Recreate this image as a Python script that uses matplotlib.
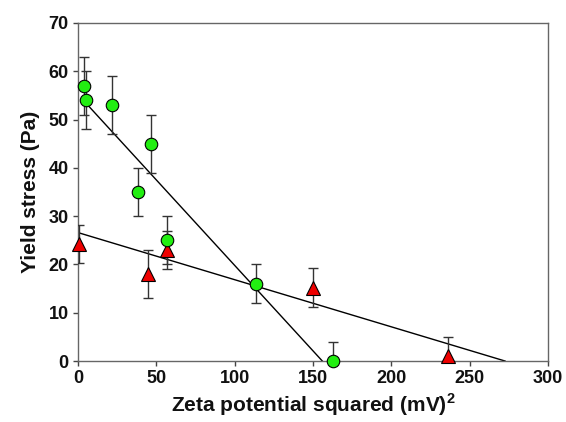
import numpy as np
from matplotlib import pyplot as plt

# green circles
green_x = [4, 5, 21.5, 46.5, 38, 57, 113.5, 163]
green_y = [57, 54, 53, 45, 35, 25, 16, 0]
green_err = [6, 6, 6, 6, 5, 5, 4, 4]

# red triangles
red_x = [0.6, 44.5, 56.5, 150, 236]
red_y = [24.2, 18, 23, 15.2, 1]
red_err = [4, 5, 4, 4, 4]

# fitted lines: intercept, slope, x start
green_fit = (55.2, -0.354, 4)
red_fit = (26.6, -0.0976, 0)

x_ticks = [0, 50, 100, 150, 200, 250, 300]
y_ticks = [0, 10, 20, 30, 40, 50, 60, 70]

plt.rcParams['font.family'] = ['Liberation Sans', 'DejaVu Sans']
plt.rcParams['mathtext.fontset'] = 'custom'
plt.rcParams['mathtext.bf'] = 'Liberation Sans:bold'

fig = plt.figure(figsize=(5.66, 4.22), dpi=100)
ax = fig.add_axes([0.1378, 0.1445, 0.8305, 0.801])

# regression lines
for b, m, x0 in [green_fit, red_fit]:
    x1 = -b / m
    xs = np.array([x0, x1])
    ax.plot(xs, b + m * xs, color='black', lw=1, zorder=2)

ax.errorbar(green_x, green_y, yerr=green_err, fmt='none', ecolor='#333333',
            elinewidth=1, capsize=3.6, capthick=1, zorder=3)
ax.errorbar(red_x, red_y, yerr=red_err, fmt='none', ecolor='#333333',
            elinewidth=1, capsize=3.6, capthick=1, zorder=3)
ax.plot(red_x, red_y, linestyle='none', marker='^', markersize=9.5,
        markerfacecolor='#ee0000', markeredgecolor='black', markeredgewidth=0.8,
        zorder=4, clip_on=False)
ax.plot(green_x, green_y, linestyle='none', marker='o', markersize=9,
        markerfacecolor='#22ee11', markeredgecolor='black', markeredgewidth=0.8,
        zorder=5, clip_on=False)

ax.set_xlim(0, 300)
ax.set_ylim(0, 70)
ax.set_xticks(x_ticks)
ax.set_yticks(y_ticks)
ax.tick_params(direction='out', length=3.6, width=1, color='#444444',
               labelsize=13, labelcolor='#111111', pad=3)
for lab in ax.get_xticklabels() + ax.get_yticklabels():
    lab.set_fontweight('bold')
for s in ax.spines.values():
    s.set_color('#666666')
    s.set_linewidth(1)

ax.set_xlabel(r'Zeta potential squared (mV)$^{\mathbf{2}}$', fontsize=15,
              fontweight='bold', labelpad=3, color='#111111')
ax.set_ylabel('Yield stress (Pa)', fontsize=15, fontweight='bold', labelpad=6,
              color='#111111')

plt.savefig('out.png', dpi=100)
